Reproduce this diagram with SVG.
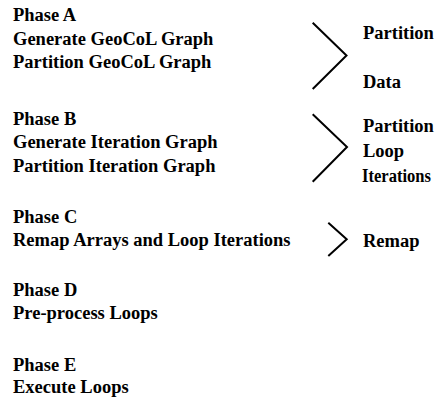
<svg xmlns="http://www.w3.org/2000/svg" width="438" height="402" viewBox="0 0 438 402">
<style>
text{font-family:"Liberation Serif","Times New Roman",serif;font-weight:bold;font-size:18.5px;fill:#000}
.c{fill:none;stroke:#000;stroke-width:2}
</style>
<rect width="438" height="402" fill="#fff"/>
<g id="phaseA">
<text x="13" y="21">Phase A</text>
<text x="13" y="45">Generate GeoCoL Graph</text>
<text x="13" y="68">Partition GeoCoL Graph</text>
</g>
<g id="phaseB">
<text x="13" y="125">Phase B</text>
<text x="13" y="148">Generate Iteration Graph</text>
<text x="13" y="172">Partition Iteration Graph</text>
</g>
<g id="phaseC">
<text x="13" y="223">Phase C</text>
<text x="13" y="246">Remap Arrays and Loop Iterations</text>
</g>
<g id="phaseD">
<text x="13" y="296">Phase D</text>
<text x="13" y="319">Pre-process Loops</text>
</g>
<g id="phaseE">
<text x="13" y="371">Phase E</text>
<text x="13" y="393">Execute Loops</text>
</g>
<g id="labelA">
<text x="363" y="39">Partition</text>
<text x="363" y="88">Data</text>
</g>
<g id="labelB">
<text x="363" y="132">Partition</text>
<text x="363" y="157">Loop</text>
<text x="362" y="182" textLength="69" lengthAdjust="spacingAndGlyphs">Iterations</text>
</g>
<g id="labelC">
<text x="363" y="247">Remap</text>
</g>
<g id="connectors">
<polyline class="c" points="312.7,22.7 346.5,55.5 312.7,89"/>
<polyline class="c" points="312.7,114.3 347,147 312.7,181.7"/>
<polyline class="c" points="328.3,222.7 346.7,239.3 328.3,256"/>
</g>
</svg>
